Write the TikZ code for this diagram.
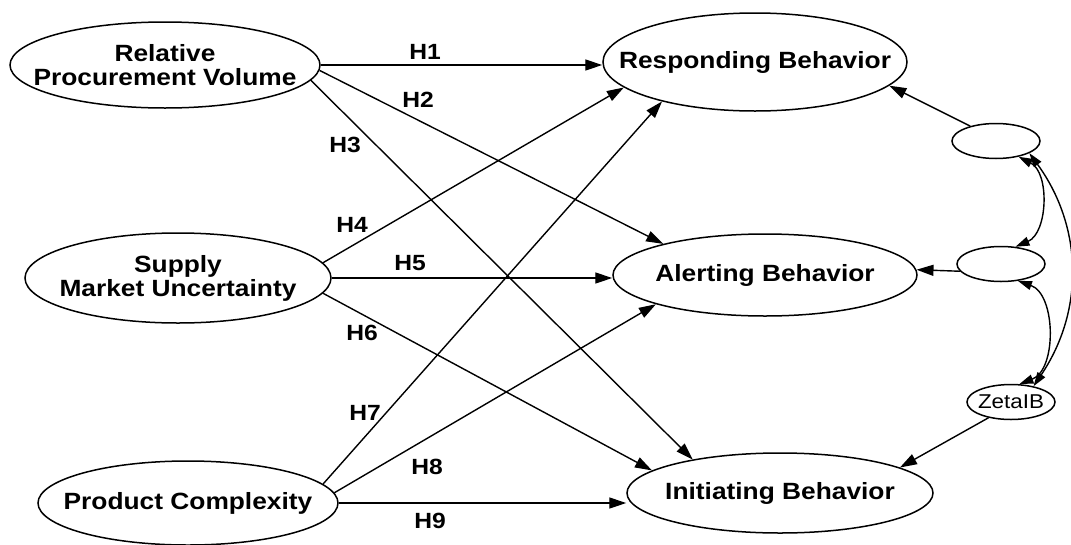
\documentclass[tikz,border=0pt]{standalone}
\usepackage{fontspec}
\setmainfont{Liberation Sans}[FakeStretch=1.12]
\usetikzlibrary{positioning,arrows.meta,shapes.geometric}
\definecolor{cEdge}{RGB}{0,0,0}
\tikzset{
  latent/.style={
    ellipse, draw=cEdge, line width=1.5pt,
    align=center, text=cEdge, font=\fontsize{23.5}{24}\selectfont\bfseries,
    inner xsep=-40pt, inner ysep=0pt,
  },
  resid/.style={
    ellipse, draw=cEdge, line width=1.5pt, inner xsep=-6pt, inner ysep=0pt,
    minimum width=88pt, minimum height=35pt, font=\fontsize{20}{20}\selectfont,
  },
  lab/.style={font=\fontsize{22}{22}\selectfont\bfseries, text=cEdge},
  arr/.style={-{Triangle[length=17pt,width=11pt]}, line width=1.4pt, draw=cEdge},
  cov/.style={{Triangle[length=14pt,width=9pt]}-{Triangle[length=14pt,width=9pt]}, line width=1.4pt, draw=cEdge},
}
\begin{document}
\begin{tikzpicture}[x=1pt, y=-1pt]
\useasboundingbox (0,0) rectangle (1071,544);

% ===== exogenous constructs =====
\node[latent, minimum width=310pt, minimum height=86pt] (rpv) at (165,65)
  {Relative\\ Procurement Volume};
\node[latent, minimum width=306pt, minimum height=90pt] (smu) at (178,278)
  {Supply\\ Market Uncertainty};
\node[latent, minimum width=300pt, minimum height=84pt] (pc) at (188,503)
  {Product Complexity};

% ===== behaviors =====
\node[latent, minimum width=304pt, minimum height=98pt] (rb) at (755,62)
  {Responding Behavior};
\node[latent, minimum width=304pt, minimum height=82pt] (ab) at (765,275)
  {Alerting Behavior};
\node[latent, minimum width=306pt, minimum height=80pt] (ib) at (780,493)
  {Initiating Behavior};

% ===== disturbances =====
\node[resid] (zrb) at (996,141) {};
\node[resid] (zab) at (1001,264) {};
\node[resid] (zib) at (1011,402) {ZetaIB};

% ===== hypothesised paths =====
\draw[arr] (rpv.east) -- (rpv -| rb.west);
\draw[arr] (rpv.-2) -- (ab.163);
\draw[arr] (rpv.-6) -- (ib.159);
\draw[arr] (smu.6) -- (rb.191);
\draw[arr] (smu.east) -- (smu -| ab.west);
\draw[arr] (smu.-6) -- (ib.170);
\draw[arr] (pc.8) -- (rb.203);
\draw[arr] (pc.4) -- (ab.195);
\draw[arr] (pc.east) -- (pc -| ib.west);

\node[lab] (h1) at (425,52) {H1};
\node[lab] (h2) at (418,100) {H2};
\node[lab] (h3) at (345,145) {H3};
\node[lab] (h4) at (352,225) {H4};
\node[lab] (h5) at (410,263) {H5};
\node[lab] (h6) at (362,333) {H6};
\node[lab] (h7) at (365,413) {H7};
\node[lab] (h8) at (427,467) {H8};
\node[lab] (h9) at (430,521) {H9};

% ===== disturbance paths and covariances =====
\draw[arr] (zrb.150) -- (rb.-10);
\draw[arr] (zab.190) -- (ab.2);
\draw[arr] (zib.215) -- (ib.12);

\draw[cov] (zrb.-35) to[bend left=65] (zab.50);
\draw[cov] (zab.-45) to[bend left=70] (zib.65);
\draw[cov] (zrb.-20) to[bend left=35] (zib.35);

\end{tikzpicture}
\end{document}
